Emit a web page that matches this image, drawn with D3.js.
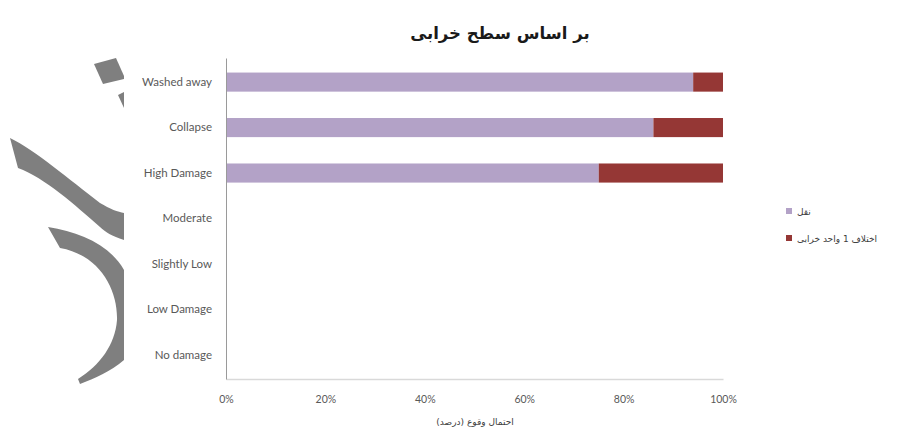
<!DOCTYPE html>
<html><head><meta charset="utf-8">
<script src="https://cdn.jsdelivr.net/npm/d3@7"></script>
<style>body{margin:0;background:#fff}</style>
</head><body><svg id="c" width="904" height="434"></svg>
<script>
const categories = ["Washed away","Collapse","High Damage","Moderate","Slightly Low","Low Damage","No damage"];
const seriesNames = ["نقل","اختلاف 1 واحد خرابی"];
const series1 = [94,86,75,0,0,0,0];
const series2 = [6,14,25,0,0,0,0];
const tickValues = [0,20,40,60,80,100];
const tickLabels = ["0%","20%","40%","60%","80%","100%"];
const colors = ["#b3a2c7","#953735"];
const chartTitle = "بر اساس سطح خرابی";
const xTitle = "احتمال وقوع (درصد)";

const svg = d3.select("#c");
const latin = "Lato, 'Open Sans', sans-serif";
const arabic = "'DejaVu Sans', sans-serif";

// watermark (decoration)
const wm = svg.append("g").attr("fill","#7f7f7f");
wm.append("path").attr("d","M94,64 L116,58 L124,76 L124,79 L103,84 Z");
wm.append("path").attr("d","M118,95 L124,92 L124,108 Z");
wm.append("path").attr("d","M10,138 C35,150 70,180 100,203 C110,209 118,212 124,213 L124,240 C112,236 105,232 100,227 C75,205 45,178 18,168 Z");
wm.append("path").attr("d","M48,227 C80,232 110,245 124,270 L124,360 C110,372 95,378 80,384 L78,379 C100,365 115,345 117,320 C118,290 100,255 60,248 Z");

const x = d3.scaleLinear().domain([0,100]).range([226,723]);
const y = d3.scaleBand().domain(categories).range([58,379]).paddingInner(0.58).paddingOuter(0.32);

const rows = categories.map((c,i)=>({cat:c, s0:series1[i], s1:series2[i]}));
const stack = d3.stack().keys(["s0","s1"])(rows);

svg.append("g").selectAll("g").data(stack).join("g")
  .attr("fill",(d,i)=>colors[i])
  .selectAll("rect").data(d=>d).join("rect")
  .attr("x",d=>x(d[0]))
  .attr("y",d=>y(d.data.cat))
  .attr("width",d=>x(d[1])-x(d[0]))
  .attr("height",y.bandwidth());

const xa = svg.append("g").attr("transform","translate(0,379)")
  .call(d3.axisBottom(x).tickValues(tickValues).tickFormat((d,i)=>tickLabels[i]).tickSize(0).tickPadding(17));
xa.select(".domain").attr("stroke","#d9d9d9").attr("stroke-width",1.5);
xa.selectAll("text").attr("fill","#595959").attr("font-family",latin).attr("font-size",10.5);

const ya = svg.append("g").attr("transform","translate(226,0)")
  .call(d3.axisLeft(y).tickSize(0).tickPadding(14));
ya.select(".domain").attr("stroke","#9a9a9a").attr("stroke-width",1);
ya.selectAll("text").attr("fill","#595959").attr("font-family",latin).attr("font-size",11.5);

svg.append("text").attr("x",500).attr("y",39).attr("text-anchor","middle").attr("direction","rtl")
  .attr("font-family",arabic).attr("font-weight","bold").attr("font-size",16.5).attr("fill","#1a1a1a").text(chartTitle);

svg.append("text").attr("x",475).attr("y",425).attr("text-anchor","middle").attr("direction","rtl")
  .attr("font-family",arabic).attr("font-size",9).attr("fill","#404040").text(xTitle);

const lg = svg.append("g").selectAll("g").data(seriesNames).join("g")
  .attr("transform",(d,i)=>`translate(786,${211+i*27})`);
lg.append("rect").attr("x",0).attr("y",-3).attr("width",6).attr("height",6).attr("fill",(d,i)=>colors[i]);
lg.append("text").attr("x",11).attr("y",3.5).attr("font-family",arabic).attr("font-size",9).attr("fill","#404040").text(d=>d);
</script></body></html>
